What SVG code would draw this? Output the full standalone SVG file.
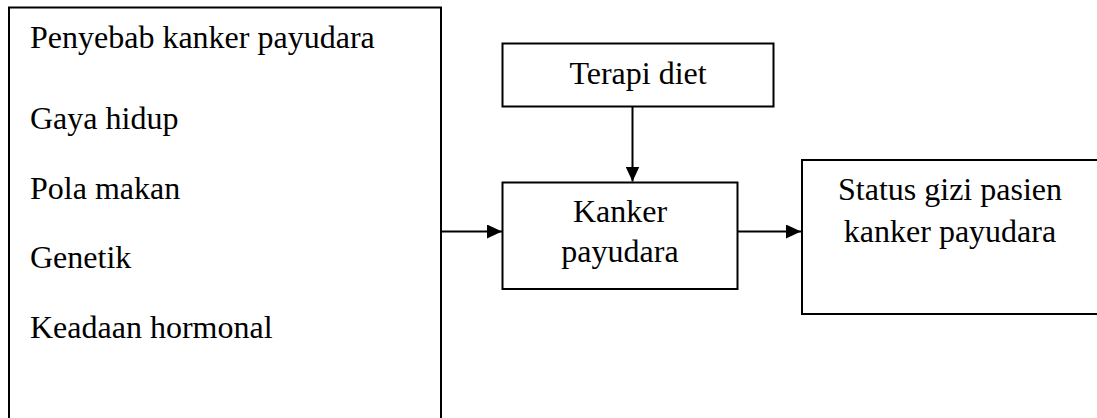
<svg xmlns="http://www.w3.org/2000/svg" width="1097" height="418" viewBox="0 0 1097 418">
<style>
.box{fill:none;stroke:#000;stroke-width:2}
.t{font-family:"Liberation Serif","Times New Roman",serif;font-size:32px;fill:#000}
.c{text-anchor:middle}
.con{stroke:#000;stroke-width:2;fill:none}
</style>
<defs>
<marker id="ah" markerWidth="15" markerHeight="14" refX="15" refY="7" orient="auto" markerUnits="userSpaceOnUse">
<path d="M0,0 L15,7 L0,14 Z" fill="#000"/>
</marker>
</defs>
<rect x="0" y="0" width="1097" height="418" fill="#fff"/>
<g id="penyebab">
<rect class="box" x="9" y="7.5" width="432" height="430"/>
<text class="t" x="30" y="48">Penyebab kanker payudara</text>
<text class="t" x="30" y="129">Gaya hidup</text>
<text class="t" x="30" y="199">Pola makan</text>
<text class="t" x="30" y="268">Genetik</text>
<text class="t" x="30" y="338">Keadaan hormonal</text>
</g>
<g id="terapi">
<rect class="box" x="502.5" y="43.5" width="271" height="63"/>
<text class="t c" x="638" y="84">Terapi diet</text>
</g>
<g id="kanker">
<rect class="box" x="502.5" y="182.5" width="235" height="106.5"/>
<text class="t c" x="620" y="222">Kanker</text>
<text class="t c" x="620" y="262">payudara</text>
</g>
<g id="status">
<rect class="box" x="802" y="160" width="310" height="154"/>
<text class="t c" x="950" y="200">Status gizi pasien</text>
<text class="t c" x="950" y="242">kanker payudara</text>
</g>
<g id="connectors">
<line class="con" x1="632.5" y1="106.5" x2="632.5" y2="181.5" marker-end="url(#ah)"/>
<line class="con" x1="441" y1="231.5" x2="502" y2="231.5" marker-end="url(#ah)"/>
<line class="con" x1="737.5" y1="231.5" x2="801" y2="231.5" marker-end="url(#ah)"/>
</g>
</svg>
